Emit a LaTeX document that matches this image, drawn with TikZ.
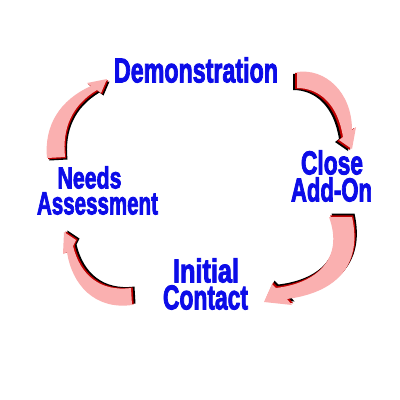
\documentclass[tikz,border=0pt]{standalone}
\usepackage{fontspec}
\usepackage{graphicx}
\newfontfamily\impactfont{Liberation Sans}[FakeBold=3]
\definecolor{txtblue}{RGB}{12,12,232}
\definecolor{arrpink}{RGB}{250,176,176}
\definecolor{arrred}{RGB}{190,0,0}
\tikzset{
  lbl/.style={inner sep=0pt, outer sep=0pt, text=txtblue, font=\impactfont\bfseries},
}
\newcommand\fitword[3]{\resizebox{#1pt}{#2pt}{#3}}
\begin{document}
\begin{tikzpicture}[x=1pt,y=-1pt]
\useasboundingbox[fill=white] (0,0) rectangle (400,400);

% arrow 1: Needs Assessment -> Demonstration
\foreach \dx/\dy/\col in {2.5/2.5/black, 1.2/1.2/arrred, 0/0/arrpink}{
  \fill[\col, shift={(\dx,\dy)}] (47,158) .. controls (44,125) and (60,100) .. (91,86)
    -- (87,83) -- (107,79) -- (101,93) -- (97,90)
    .. controls (72,105) and (62,128) .. (65,157) -- cycle;
}
% arrow 2: Demonstration -> Close
\foreach \dx/\dy/\col in {-4/2/black, -2/1/arrred, 0/0/arrpink}{
  \fill[\col, shift={(\dx,\dy)}] (297,72) .. controls (325,68) and (352,92) .. (352,130)
    -- (356,127) -- (352,149) -- (339,140) -- (343,137)
    .. controls (338,105) and (320,88) .. (297,88) -- cycle;
}
% arrow 3: Close -> Initial Contact
\foreach \dx/\dy/\col in {2.5/-3.5/black, 1.2/-1.7/arrred, 0/0/arrpink}{
  \fill[\col, shift={(\dx,\dy)}] (352,217) .. controls (362,262) and (340,292) .. (287,299)
    -- (292,305) -- (264,302) -- (272,284) -- (276,288)
    .. controls (318,283) and (344,258) .. (329,217) -- cycle;
}
% arrow 4: Initial Contact -> Needs Assessment
\foreach \dx/\dy/\col in {3.5/-1.5/black, 1.7/-0.7/arrred, 0/0/arrpink}{
  \fill[\col, shift={(\dx,\dy)}] (132,305) .. controls (95,310) and (72,285) .. (67,252)
    -- (63,254) -- (64,232) -- (76,240) -- (73,246)
    .. controls (80,275) and (100,292) .. (131,288) -- cycle;
}

\node[lbl] (demo) at (196,70) {\fitword{164}{25}{Demonstration}};
\node[lbl] (close) at (332,162.5) {\fitword{62}{24}{Close}};
\node[lbl] (addon) at (331.5,189.5) {\fitword{81}{24}{Add-On}};
\node[lbl] (needs) at (89.5,177.5) {\fitword{64}{22}{Needs}};
\node[lbl] (assess) at (97.5,203.5) {\fitword{121}{22}{Assessment}};
\node[lbl] (initial) at (206,270.5) {\fitword{66}{24}{Initial}};
\node[lbl] (contact) at (205.5,297.5) {\fitword{85}{24}{Contact}};
\end{tikzpicture}
\end{document}
